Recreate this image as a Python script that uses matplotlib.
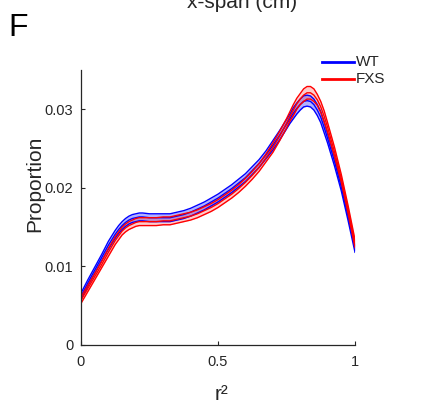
import matplotlib
matplotlib.use("Agg")
import matplotlib.pyplot as plt
from matplotlib.lines import Line2D
import numpy as np

plt.rcParams['font.family'] = ['Liberation Sans', 'DejaVu Sans']

r2 = [0.000, 0.025, 0.050, 0.075, 0.100, 0.125, 0.1375, 0.150, 0.1625, 0.175,
      0.1875, 0.200, 0.2125, 0.225,
      0.250, 0.275, 0.300, 0.325, 0.350, 0.375, 0.400, 0.425, 0.450, 0.475,
      0.500, 0.525, 0.550, 0.575, 0.600, 0.625, 0.650, 0.675, 0.700, 0.725,
      0.750, 0.7625, 0.775, 0.7875, 0.800, 0.8125, 0.825, 0.8375, 0.850, 0.8625,
      0.875, 0.8875, 0.900, 0.925, 0.950, 0.975, 1.000]
wt_mean = [0.0062, 0.0079, 0.0095, 0.0111, 0.0127, 0.0141, 0.0147, 0.0152, 0.0156, 0.0159,
           0.0161, 0.0162, 0.0163, 0.0163,
           0.0162, 0.0162, 0.0162, 0.0162, 0.0164, 0.0166, 0.0169, 0.0173, 0.0177, 0.0182,
           0.0187, 0.0193, 0.0199, 0.0206, 0.0213, 0.0222, 0.0231, 0.0242, 0.0254, 0.0267,
           0.0281, 0.0288, 0.0295, 0.0301, 0.0306, 0.0310, 0.0311, 0.0310, 0.0306, 0.0299,
           0.0290, 0.0277, 0.0263, 0.0234, 0.0201, 0.0163, 0.0123]
fxs_mean = [0.0057, 0.0072, 0.0087, 0.0102, 0.0118, 0.0133, 0.0139, 0.0145, 0.0149, 0.0152,
            0.0154, 0.0156, 0.0157, 0.0157,
            0.0157, 0.0157, 0.0158, 0.0158, 0.0160, 0.0162, 0.0164, 0.0167, 0.0171, 0.0175,
            0.0180, 0.0186, 0.0192, 0.0199, 0.0207, 0.0216, 0.0226, 0.0238, 0.0251, 0.0266,
            0.0282, 0.0291, 0.0299, 0.0307, 0.0313, 0.0318, 0.0321, 0.0321, 0.0318, 0.0312,
            0.0303, 0.0291, 0.0277, 0.0246, 0.0212, 0.0172, 0.0129]
wt_sem = [0.0004, 0.0004, 0.0004, 0.0004, 0.0005, 0.0005, 0.0005, 0.0005, 0.0005, 0.0005,
          0.0005, 0.0005, 0.0005, 0.0005,
          0.0005, 0.0005, 0.0005, 0.0005, 0.0005, 0.0005, 0.0005, 0.0005, 0.0005, 0.0005,
          0.0005, 0.0005, 0.0005, 0.0005, 0.0005, 0.0005, 0.0005, 0.0005, 0.0006, 0.0006,
          0.0006, 0.0006, 0.0007, 0.0007, 0.0007, 0.0007, 0.0007, 0.0007, 0.0007, 0.0007,
          0.0007, 0.0007, 0.0006, 0.0006, 0.0005, 0.0005, 0.0005]
fxs_sem = [0.0004, 0.0004, 0.0004, 0.0004, 0.0005, 0.0005, 0.0005, 0.0005, 0.0005, 0.0005,
           0.0005, 0.0005, 0.0005, 0.0005,
           0.0005, 0.0005, 0.0005, 0.0005, 0.0005, 0.0005, 0.0005, 0.0005, 0.0005, 0.0005,
           0.0005, 0.0005, 0.0005, 0.0005, 0.0005, 0.0005, 0.0005, 0.0005, 0.0006, 0.0006,
           0.0006, 0.0006, 0.0007, 0.0007, 0.0007, 0.0008, 0.0008, 0.0008, 0.0008, 0.0007,
           0.0007, 0.0007, 0.0006, 0.0006, 0.0005, 0.0005, 0.0005]

groups = ["WT", "FXS"]
colors = {"WT": "#0000ff", "FXS": "#ff0000"}
fill_alpha = {"WT": 0.3, "FXS": 0.2}
data = {"WT": (wt_mean, wt_sem), "FXS": (fxs_mean, fxs_sem)}

W, H = 427, 408
fig = plt.figure(figsize=(W / 100, H / 100), dpi=100)
ax = fig.add_axes([81 / W, 1 - 345 / H, 274 / W, 275 / H])

x = np.array(r2)
for g in groups:
    m, s = (np.array(a) for a in data[g])
    ax.fill_between(x, m - s, m + s, color=colors[g], alpha=fill_alpha[g], lw=0)
    for arr in (m - s, m, m + s):
        ax.plot(x, arr, color=colors[g], lw=1.0, solid_joinstyle="round")

ax.set_xlim(0, 1)
ax.set_ylim(0, 0.035)
ax.set_xticks([0, 0.5, 1])
ax.set_xticklabels(["0", "0.5", "1"])
ax.set_yticks([0, 0.01, 0.02, 0.03])
ax.set_yticklabels(["0", "0.01", "0.02", "0.03"])
for side in ("top", "right"):
    ax.spines[side].set_visible(False)
for side in ("left", "bottom"):
    ax.spines[side].set_color("#262626")
    ax.spines[side].set_linewidth(0.9)
ax.tick_params(direction="in", length=3, width=0.8, colors="#262626",
               labelsize=10.5, labelcolor="#262626")
ax.tick_params(axis="x", pad=7)
ax.tick_params(axis="y", pad=5.5)

fig.text(35 / W, 1 - 184 / H, "Proportion", rotation=90, ha="center", va="center",
         fontsize=15, color="#262626")
fig.text(222 / W, 1 - 400 / H, "r²", ha="center", va="baseline",
         fontsize=15, color="#262626")
fig.text(242.5 / W, 1 - 7.5 / H, "x-span (cm)", ha="center", va="baseline",
         fontsize=15, color="#262626")
fig.text(8 / W, 1 - 36 / H, "F", ha="left", va="baseline", fontsize=23, color="black")

for g, yp in zip(groups, (61.7, 79.3)):
    fig.add_artist(Line2D([322.5 / W, 354 / W], [1 - yp / H, 1 - yp / H],
                          color=colors[g], lw=2))
    fig.text(356 / W, 1 - yp / H, g, ha="left", va="center", fontsize=11,
             color="#262626")

fig.savefig("out.png", dpi=100)
